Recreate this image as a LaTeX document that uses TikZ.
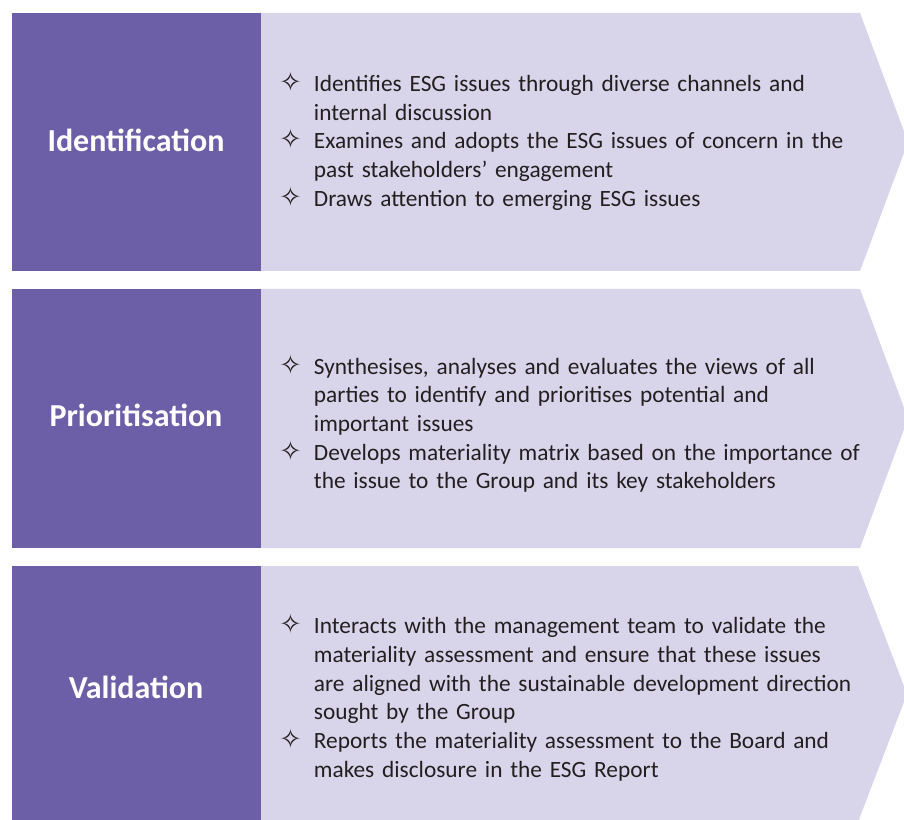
\documentclass[tikz,border=0pt]{standalone}
\usepackage{fontspec}
\setmainfont{Carlito}
\newfontfamily\starfont{DejaVu Sans}

\definecolor{esgpurple}{RGB}{109,95,167}
\definecolor{esglilac}{RGB}{216,212,234}
\definecolor{esgtext}{RGB}{35,31,32}

% one bullet of a stage, star then hanging text
\newcommand{\esgitem}[1]{\par\noindent\hangindent=26pt\hangafter=1\makebox[26pt][l]{\starfont\fontsize{20}{20}\selectfont ✧}#1\par}

\tikzset{
  stagetitle/.style={text=white, inner sep=0pt,
    font=\fontsize{24}{28}\selectfont\bfseries},
  stagebox/.style={fill=esgpurple},
  stagearrow/.style={fill=esglilac},
  points/.style={anchor=west, inner sep=0pt, text=esgtext, align=left,
    text width=480pt, font=\fontsize{17.5}{21.5}\selectfont}
}

\begin{document}
\begin{tikzpicture}[x=0.75pt, y=-0.75pt]

\useasboundingbox[fill=white] (0,0) rectangle (904,820);

% Identification
\fill[stagearrow] (261,13) -- (860,13) -- (908,142) -- (860,271) -- (261,271) -- cycle;
\fill[stagebox] (12,13) rectangle (261,271);
\node[stagetitle] (ident) at (136,140) {Identification};
\node[points] (identpts) at (279,136.5) {%
  \esgitem{Identifies ESG issues through diverse channels and\newline internal discussion}
  \esgitem{Examines and adopts the ESG issues of concern in the\newline past stakeholders’ engagement}
  \esgitem{Draws attention to emerging ESG issues}};

% Prioritisation
\fill[stagearrow] (261,289) -- (860,289) -- (908,418.5) -- (860,548) -- (261,548) -- cycle;
\fill[stagebox] (12,289) rectangle (261,548);
\node[stagetitle] (prior) at (136,415) {Prioritisation};
\node[points] (priorpts) at (279,419) {%
  \esgitem{Synthesises, analyses and evaluates the views of all\newline parties to identify and prioritises potential and\newline important issues}
  \esgitem{Develops materiality matrix based on the importance of\newline the issue to the Group and its key stakeholders}};

% Validation
\fill[stagearrow] (261,566) -- (858,566) -- (907,694) -- (858,822) -- (261,822) -- cycle;
\fill[stagebox] (12,566) rectangle (261,822);
\node[stagetitle] (valid) at (136,687) {Validation};
\node[points] (validpts) at (279,693) {%
  \esgitem{Interacts with the management team to validate the\newline materiality assessment and ensure that these issues\newline are aligned with the sustainable development direction\newline sought by the Group}
  \esgitem{Reports the materiality assessment to the Board and\newline makes disclosure in the ESG Report}};

\end{tikzpicture}
\end{document}
